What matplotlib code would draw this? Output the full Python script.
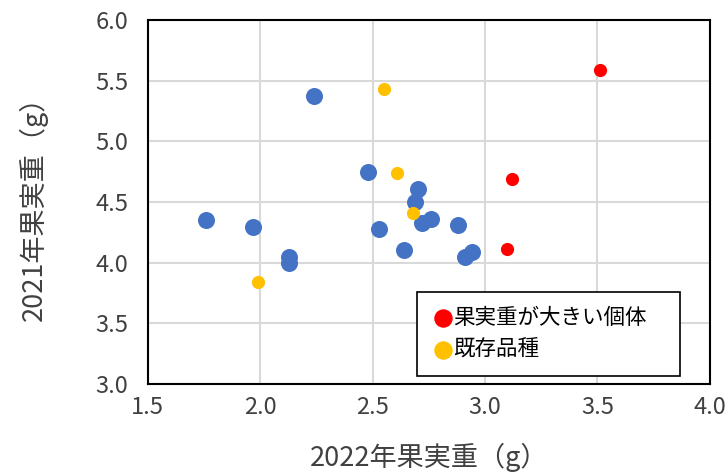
import matplotlib
matplotlib.use("Agg")
import matplotlib.pyplot as plt

plt.rcParams['font.family'] = ['Noto Sans CJK JP', 'DejaVu Sans']

# 既存の個体 (blue)
x_other = [2.24, 2.48, 2.70, 2.69, 1.76, 1.97, 2.53, 2.72, 2.76, 2.88, 2.64, 2.13, 2.13, 2.91, 2.94]
y_other = [5.37, 4.75, 4.61, 4.50, 4.35, 4.29, 4.28, 4.33, 4.36, 4.31, 4.10, 4.05, 4.00, 4.05, 4.09]

# 果実重が大きい個体 (red)
x_big = [3.51, 3.12, 3.10]
y_big = [5.59, 4.69, 4.11]

# 既存品種 (orange)
x_var = [2.55, 2.61, 2.68, 1.99]
y_var = [5.43, 4.74, 4.41, 3.84]

fig = plt.figure(figsize=(7.28, 4.74), dpi=100)
ax = fig.add_axes([0.203, 0.19, 0.772, 0.768])

ax.scatter(x_other, y_other, s=150, color="#4472C4", linewidths=0, zorder=3)
ax.scatter(x_big, y_big, s=90, color="#FF0000", linewidths=0, zorder=3, label="果実重が大きい個体")
ax.scatter(x_var, y_var, s=90, color="#FFC000", linewidths=0, zorder=3, label="既存品種")

ax.set_xlim(1.5, 4.0)
ax.set_ylim(3.0, 6.0)
ax.set_xticks([1.5, 2.0, 2.5, 3.0, 3.5, 4.0])
ax.set_yticks([3.0, 3.5, 4.0, 4.5, 5.0, 5.5, 6.0])
ax.set_xticklabels(["1.5", "2.0", "2.5", "3.0", "3.5", "4.0"])
ax.set_yticklabels(["3.0", "3.5", "4.0", "4.5", "5.0", "5.5", "6.0"])
ax.tick_params(length=0, labelsize=17, colors="#404040")
ax.tick_params(axis="x", pad=9)
ax.tick_params(axis="y", pad=14)
ax.grid(color="#d9d9d9", linewidth=1.5, zorder=0)
ax.set_axisbelow(True)
for sp in ax.spines.values():
    sp.set_color("black")
    sp.set_linewidth(1.5)

ax.set_xlabel("2022年果実重（g）", fontsize=19.5, color="#404040", labelpad=17)
ax.set_ylabel("2021年果実重（g）", fontsize=19.5, color="#404040", labelpad=34)

leg = ax.legend(loc="upper left", bbox_to_anchor=(0.479, 0.04, 0.468, 0.213), mode="expand",
                fontsize=15.5, frameon=True, fancybox=False, handletextpad=0.0,
                handlelength=1.0, borderpad=0.7, labelspacing=0.45, scatterpoints=1,
                markerscale=1.4, borderaxespad=0)
leg.get_frame().set_edgecolor("black")
leg.get_frame().set_linewidth(1.2)
leg.get_frame().set_alpha(1)

fig.savefig("out.png", dpi=100)
